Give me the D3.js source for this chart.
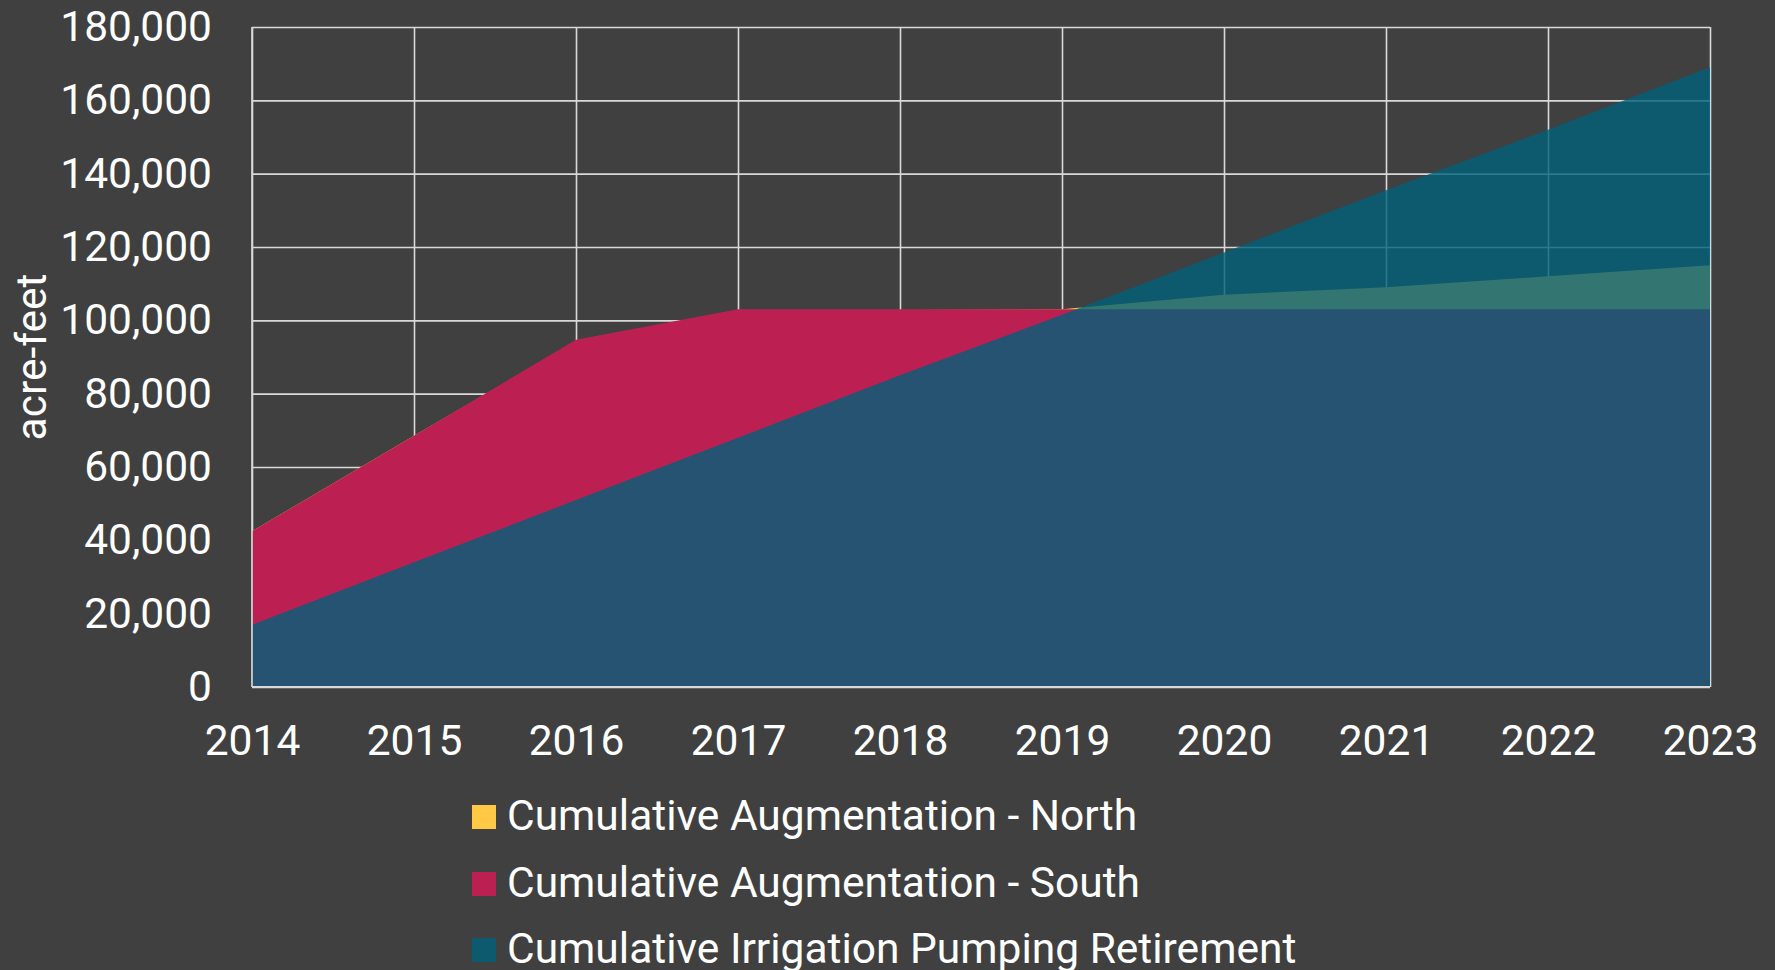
<!DOCTYPE html>
<html>
<head>
<meta charset="utf-8">
<script src="https://cdn.jsdelivr.net/npm/d3@7"></script>
<style>
html,body{margin:0;padding:0;background:#404040;}
svg{display:block;}
text{font-family:Roboto,"Noto Sans",sans-serif;fill:#ffffff;}
</style>
</head>
<body>
<svg id="chart" width="1775" height="970"></svg>
<script>
const years = [2014, 2015, 2016, 2017, 2018, 2019, 2020, 2021, 2022, 2023];
const augNorth = [42500, 68500, 94300, 102800, 102800, 103000, 107000, 109000, 112000, 115000];
const augSouth = [42500, 68500, 94700, 103000, 103000, 103000, 103000, 103000, 103000, 103000];
const pumpingRetirement = [17000, 34000, 51000, 68000, 85000, 101500, 118500, 135500, 152000, 169000];
const yTicks = [0, 20000, 40000, 60000, 80000, 100000, 120000, 140000, 160000, 180000];
const seriesNames = ["Cumulative Augmentation - North", "Cumulative Augmentation - South", "Cumulative Irrigation Pumping Retirement"];

const colors = ["#ffc845", "#bc2052", "#00607a"];
const opac = [1, 1, 0.8];
const fs = 42.5;

const svg = d3.select("#chart");
const pL = 252, pR = 1710, pT = 27, pB = 687;

const x = d3.scalePoint().domain(years).range([pL, pR]);
const y = d3.scaleLinear().domain([0, 180000]).range([pB, pT]);

// y axis with gridlines
const gy = svg.append("g").attr("transform", `translate(${pL},0)`)
  .call(d3.axisLeft(y).tickValues(yTicks).tickFormat(d3.format(",")).tickSize(-(pR - pL)).tickPadding(40));
gy.select(".domain").remove();
gy.selectAll(".tick line").attr("stroke", "#d9d9d9").attr("stroke-width", 1.6);
gy.selectAll(".tick text").attr("font-size", fs).attr("fill", "#ffffff");

// x axis with gridlines
const gx = svg.append("g").attr("transform", `translate(0,${pB})`)
  .call(d3.axisBottom(x).tickSize(-(pB - pT)).tickPadding(38));
gx.select(".domain").remove();
gx.selectAll(".tick line").attr("stroke", "#d9d9d9").attr("stroke-width", 1.6);
gx.selectAll(".tick text").attr("font-size", fs).attr("fill", "#ffffff");

const allSeries = [augNorth, augSouth, pumpingRetirement];
const area = d3.area()
  .x((d, i) => x(years[i]))
  .y0(y(0))
  .y1(d => y(d));

allSeries.forEach((s, k) => {
  svg.append("path")
    .datum(s)
    .attr("d", area)
    .attr("fill", colors[k])
    .attr("fill-opacity", opac[k]);
});

// axis lines on top
svg.append("line").attr("x1", pL).attr("x2", pL).attr("y1", pT).attr("y2", pB)
  .attr("stroke", "#d9d9d9").attr("stroke-width", 1.6);
svg.append("line").attr("x1", pL).attr("x2", pR).attr("y1", pB).attr("y2", pB)
  .attr("stroke", "#d9d9d9").attr("stroke-width", 2);

// y axis title
svg.append("text")
  .attr("transform", `translate(46,${(pT + pB) / 2}) rotate(-90)`)
  .attr("text-anchor", "middle")
  .attr("font-size", fs)
  .text("acre-feet");

// legend
const legendY = [817, 884, 950];
const lg = svg.append("g");
seriesNames.forEach((name, k) => {
  lg.append("rect")
    .attr("x", 472).attr("y", legendY[k] - 12)
    .attr("width", 24).attr("height", 24)
    .attr("fill", colors[k]).attr("fill-opacity", opac[k]);
  lg.append("text")
    .attr("x", 507).attr("y", legendY[k] + 13)
    .attr("font-size", fs)
    .text(name);
});
</script>
</body>
</html>
